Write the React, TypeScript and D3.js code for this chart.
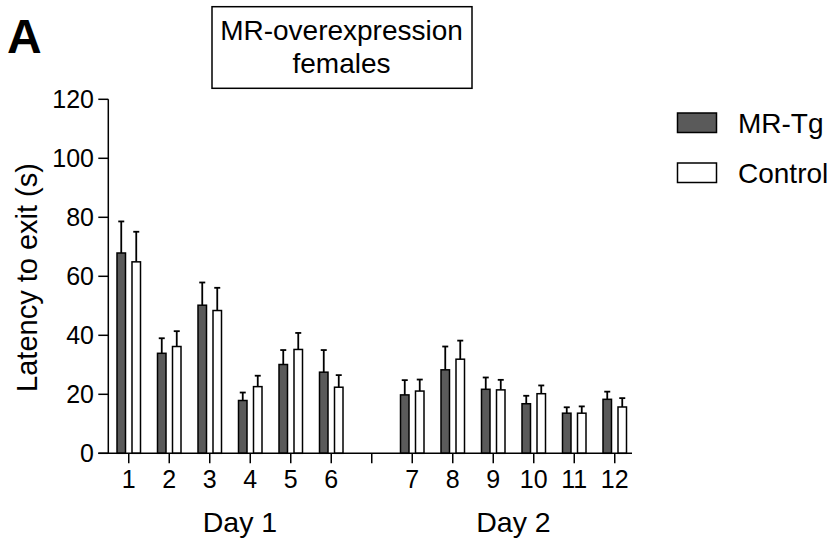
import React from 'react';
import * as d3 from 'd3';

const trials = ['1', '2', '3', '4', '5', '6', '7', '8', '9', '10', '11', '12'];
const slots = ['1', '2', '3', '4', '5', '6', 'gap', '7', '8', '9', '10', '11', '12'];
const mrTg = [67.9, 33.9, 50.2, 17.9, 30.1, 27.5, 19.8, 28.3, 21.7, 16.8, 13.6, 18.3];
const mrTgSem = [10.7, 5.1, 7.7, 2.7, 4.9, 7.5, 5.0, 7.9, 4.0, 2.7, 2.0, 2.6];
const control = [64.9, 36.2, 48.4, 22.6, 35.2, 22.4, 21.1, 31.9, 21.5, 20.2, 13.6, 15.7];
const controlSem = [10.2, 5.2, 7.7, 3.7, 5.6, 4.1, 3.9, 6.3, 3.4, 2.8, 2.3, 3.0];
const yTicks = [0, 20, 40, 60, 80, 100, 120];
const seriesNames = ['MR-Tg', 'Control'];
const seriesFills = ['#5a5a5a', '#ffffff'];
const titleLines = ['MR-overexpression', 'females'];
const dayLabels = ['Day 1', 'Day 2'];

const FONT = '"Liberation Sans", Arial, Helvetica, sans-serif';

export default function App() {
  const W = 831, H = 544;
  const x = d3.scaleBand<string>().domain(slots).range([108.5, 635]).paddingInner(0).paddingOuter(0);
  const y = d3.scaleLinear().domain([0, 120]).range([453.3, 99.3]);
  const axisX = 108.3;
  const barW = 10;
  const offs = 7.5;
  const cx = (k: string) => (x(k) as number) + x.bandwidth() / 2;

  const series = [
    { vals: mrTg, sem: mrTgSem, off: -offs, fill: seriesFills[0] },
    { vals: control, sem: controlSem, off: offs, fill: seriesFills[1] },
  ];

  const day1X = (cx('1') + cx('6')) / 2 + 10;
  const day2X = (cx('7') + cx('12')) / 2;

  return (
    <svg width={W} height={H} style={{ position: 'absolute', left: 0, top: 0, background: '#fff' }} fontFamily={FONT}>
      <rect x={0} y={0} width={W} height={H} fill="#fff" />
      {/* Panel letter */}
      <text x={7} y={52.7} fontSize={48} fontWeight="bold" fill="#000">A</text>
      {/* Title box */}
      <rect x={212} y={6.7} width={260} height={81.6} fill="#fff" stroke="#000" strokeWidth={1.5} />
      {titleLines.map((t, i) => (
        <text key={t} x={341.5} y={40 + i * 33} fontSize={28} textAnchor="middle" fill="#000">{t}</text>
      ))}

      {/* bars */}
      {series.map((s, si) =>
        trials.map((t, i) => {
          const c = cx(t) + s.off;
          const top = y(s.vals[i]);
          const eTop = y(s.vals[i] + s.sem[i]);
          return (
            <g key={`${si}-${t}`}>
              <line x1={c} x2={c} y1={top} y2={eTop} stroke="#000" strokeWidth={1.8} />
              <line x1={c - 3} x2={c + 3} y1={eTop} y2={eTop} stroke="#000" strokeWidth={1.8} />
              <rect x={c - barW / 2 + 0.75} y={top} width={barW - 1.5} height={y(0) - top} fill={s.fill} stroke="#000" strokeWidth={1.5} />
            </g>
          );
        })
      )}

      {/* y axis */}
      <line x1={axisX} x2={axisX} y1={y(120)} y2={y(0)} stroke="#000" strokeWidth={1.5} />
      {yTicks.map(v => (
        <g key={v}>
          <line x1={axisX - 10} x2={axisX} y1={y(v)} y2={y(v)} stroke="#000" strokeWidth={1.5} />
          <text x={94} y={y(v)} dy="0.36em" fontSize={25} textAnchor="end" fill="#000">{v}</text>
        </g>
      ))}
      {/* x axis */}
      <line x1={axisX - 10} x2={632} y1={y(0)} y2={y(0)} stroke="#000" strokeWidth={1.5} />
      {slots.map(k => (
        <g key={k}>
          <line x1={cx(k)} x2={cx(k)} y1={y(0)} y2={y(0) + 10} stroke="#000" strokeWidth={1.5} />
          {k !== 'gap' && (
            <text x={cx(k)} y={488} fontSize={25} textAnchor="middle" fill="#000">{k}</text>
          )}
        </g>
      ))}
      <text x={day1X} y={531.5} fontSize={28.5} textAnchor="middle" fill="#000">{dayLabels[0]}</text>
      <text x={day2X} y={531.5} fontSize={28.5} textAnchor="middle" fill="#000">{dayLabels[1]}</text>

      {/* y axis label */}
      <text transform={`translate(36.5,${277.5}) rotate(-90)`} fontSize={29} textAnchor="middle" fill="#000">Latency to exit (s)</text>

      {/* legend */}
      {seriesNames.map((n, i) => (
        <g key={n}>
          <rect x={677.5} y={113 + i * 50} width={39} height={19.5} fill={seriesFills[i]} stroke="#000" strokeWidth={1.5} />
          <text x={738} y={133 + i * 50} fontSize={28} fill="#000">{n}</text>
        </g>
      ))}
    </svg>
  );
}
